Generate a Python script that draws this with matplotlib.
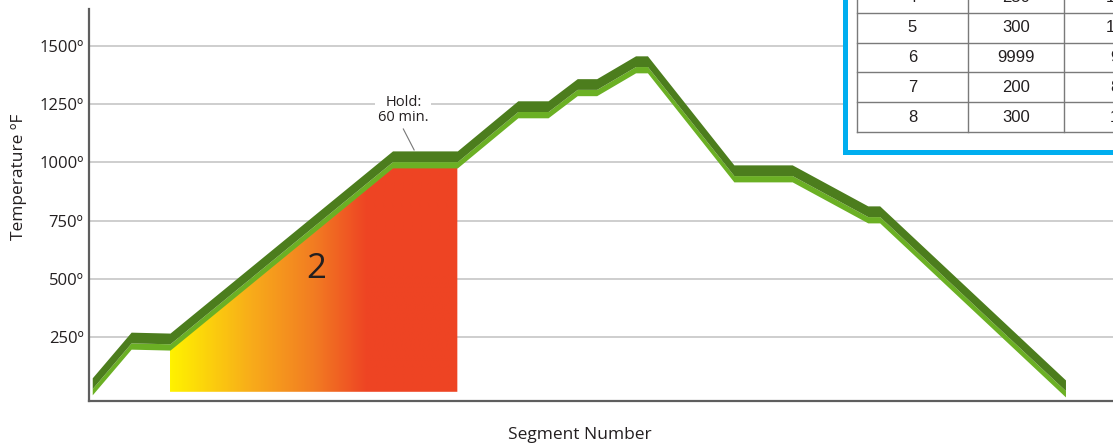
import numpy as np
import matplotlib
matplotlib.use("Agg")
import matplotlib.pyplot as plt
from matplotlib.colors import LinearSegmentedColormap
from matplotlib.patches import Polygon, Rectangle

# firing profile (time in minutes, temperature in deg F, centre of the ribbon)
time_min = [3, 39, 75, 281, 341, 397, 425, 452, 470, 506, 517, 597, 651, 721, 732, 904]
temp_f = [36, 232, 228, 1010, 1010, 1225, 1225, 1320, 1320, 1418, 1418, 950, 950, 774, 774, 27]

# segment 2 highlight (ramp + 60 min hold)
seg2_start, seg2_end = 75, 341
seg2_label = "2"

# y axis
y_ticks = [250, 500, 750, 1000, 1250, 1500]
y_tick_labels = [f"{t}º" for t in y_ticks]

# program table (visible part, top right)
table_seg = [4, 5, 6, 7, 8]
table_rate = [250, 300, 9999, 200, 300]
table_temp = [1300, 1425, 950, 800, 100]

DARK_GREEN = "#4c7d1d"
LIGHT_GREEN = "#6bb024"
GRID = "#c6c6c6"
AXIS = "#5e5e5e"
TEXT = "#231f20"
BLUE = "#00aeef"

plt.rcParams["font.family"] = ["Open Sans", "DejaVu Sans"]

fig = plt.figure(figsize=(11.13, 4.47), dpi=100)
ax = fig.add_axes([89 / 1113, 46 / 447, 1 - 89 / 1113, 392 / 447])
ax.set_xlim(0, 948)
ax.set_ylim(-24.5, 1658)

# grid + axes
for t in y_ticks:
    ax.axhline(t, color=GRID, lw=1.2, zorder=1)
ax.set_yticks(y_ticks)
ax.set_yticklabels(y_tick_labels, fontsize=12, color=TEXT)
ax.tick_params(axis="y", length=0, pad=4)
ax.set_xticks([])
for side in ["top", "right"]:
    ax.spines[side].set_visible(False)
for side in ["left", "bottom"]:
    ax.spines[side].set_color(AXIS)
    ax.spines[side].set_linewidth(1.6)
ax.set_ylabel("Temperature ºF", fontsize=12.5, color=TEXT)
ax.yaxis.set_label_coords(-0.0605, 0.571)
ax.set_xlabel("Segment Number", fontsize=12.5, color=TEXT)
ax.xaxis.set_label_coords(0.479, -0.066)

t = np.array(time_min, dtype=float)
T = np.array(temp_f, dtype=float)

# gradient fill under segment 2
mask = (t >= seg2_start) & (t <= seg2_end)
edge_x = t[mask]
edge_y = T[mask] - 34
fill_bottom = 15
verts = [(seg2_start, fill_bottom)] + list(zip(edge_x, edge_y)) + [(seg2_end, fill_bottom)]
poly = Polygon(verts, closed=True, facecolor="none", edgecolor="none")
ax.add_patch(poly)
cmap = LinearSegmentedColormap.from_list(
    "heat", [(0, "#fff200"), (0.28, "#f8ac1a"), (0.5, "#f27c22"), (0.68, "#ee4524"), (1, "#ee4423")])
grad = np.linspace(0, 1, 256).reshape(1, -1)
im = ax.imshow(grad, cmap=cmap, aspect="auto", zorder=2,
               extent=[seg2_start, seg2_end, fill_bottom, 1010])
im.set_clip_path(poly)

ax.text(210, 540, seg2_label, fontsize=25, ha="center", va="center", color=TEXT, zorder=3)

# ribbon: light lower strip, dark upper part
ax.fill_between(t, T - 34, T - 7, color=LIGHT_GREEN, lw=0, zorder=4)
ax.fill_between(t, T - 7, T + 39, color=DARK_GREEN, lw=0, zorder=4)

# hold annotation
ax.text(291, 1225, "Hold:\n60 min.", fontsize=10.5, ha="center", va="center", color=TEXT,
        linespacing=0.95, zorder=5,
        bbox=dict(facecolor="white", edgecolor="none", pad=2))
ax.plot([291, 301], [1143, 1053], color="#777777", lw=0.8, zorder=5)

# table box in the top right corner (partly off the canvas)
def px(x, y):
    return x / 1113, 1 - y / 447

bx0, by0 = px(845, 152)
fig.patches.append(Rectangle((bx0, by0), 1.2 - bx0, 1.2 - by0, transform=fig.transFigure,
                             facecolor="white", edgecolor=BLUE, lw=3.6, zorder=10))
row_h = 29.8
col_x = [857, 968, 1064, 1184]
table_bottom = 132
n = len(table_seg)
for i in range(n + 1):
    y = table_bottom - i * row_h
    fig.add_artist(plt.Line2D([px(857, 0)[0], 1.2], [px(0, y)[1]] * 2, transform=fig.transFigure,
                              color="#7a7a7a", lw=1, zorder=11))
for cx in col_x:
    fig.add_artist(plt.Line2D([px(cx, 0)[0]] * 2, [px(0, table_bottom)[1], 1.2], transform=fig.transFigure,
                              color="#7a7a7a", lw=1, zorder=11))
for i, (s, r, tt) in enumerate(zip(table_seg, table_rate, table_temp)):
    yc = table_bottom - (n - i - 0.5) * row_h
    for j, val in enumerate([s, r, tt]):
        xc = (col_x[j] + col_x[j + 1]) / 2
        fig.text(*px(xc, yc), str(val), ha="center", va="center", fontsize=12, color=TEXT,
                 family=["Liberation Sans", "DejaVu Sans"], zorder=12)

fig.savefig("out.png", dpi=100)
